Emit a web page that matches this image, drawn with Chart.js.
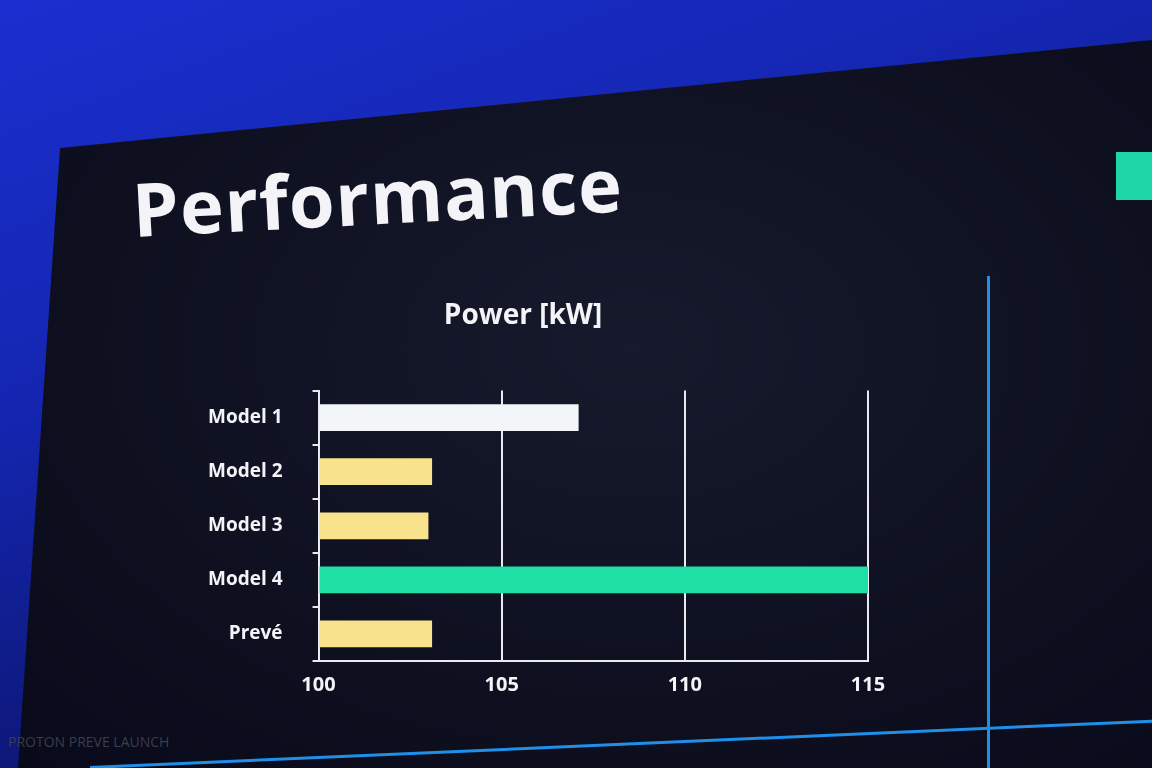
<!DOCTYPE html>
<html>
<head>
<meta charset="utf-8">
<script src="https://cdn.jsdelivr.net/npm/chart.js@4"></script>
<style>
  html, body { margin: 0; padding: 0; }
  body {
    width: 1152px; height: 768px; overflow: hidden; position: relative;
    background: linear-gradient(160deg, #1b2fd0 0%, #1426b0 35%, #0c1670 70%, #0a0f40 100%);
    font-family: "Open Sans", "DejaVu Sans", sans-serif;
  }
  #slide {
    position: absolute; left: 0; top: 0; width: 1152px; height: 768px;
    background: radial-gradient(ellipse at 55% 45%, #161a2c 0%, #0e1020 60%, #08091a 100%);
    clip-path: polygon(60px 148px, 1152px 40px, 1152px 768px, 18px 768px);
  }
  #heading {
    position: absolute; left: 135px; top: 158px; margin: 0;
    color: #f4f4f8; font-size: 74px; font-weight: 700; letter-spacing: 1px;
    transform: rotate(-3deg); transform-origin: left bottom;
  }
  #vline { position: absolute; left: 987px; top: 276px; width: 3px; height: 492px; background: #1f8fe8; }
  #teal { position: absolute; left: 1116px; top: 152px; width: 40px; height: 48px; background: #1fd6a6; }
  #bline {
    position: absolute; left: 90px; top: 766px; width: 1080px; height: 3px; background: #1f8fe8;
    transform: rotate(-2.5deg); transform-origin: left center;
  }
  #footer { position: absolute; left: 8px; top: 732px; color: #3a3d4c; font-size: 14px; }
  #wrap { position: absolute; left: 178px; top: 299px; width: 720px; height: 410px; }
</style>
</head>
<body>
<div id="slide"></div>
<h1 id="heading">Performance</h1>
<div id="vline"></div>
<div id="teal"></div>
<div id="bline"></div>
<div id="footer">PROTON PREVE LAUNCH</div>
<div id="wrap"><canvas id="powerChart"></canvas></div>
<script>
// Data
var models = ["Model 1", "Model 2", "Model 3", "Model 4", "Prevé"];
var power = [107.1, 103.1, 103.0, 115, 103.1];
var barColors = ["#f2f6f8", "#f8e28c", "#f8e28c", "#1fe0a4", "#f8e28c"];
var xTicks = [100, 105, 110, 115];

var ctx = document.getElementById("powerChart").getContext("2d");
var chart = new Chart(ctx, {
    type: "bar",
    data: {
        labels: models,
        datasets: [
            {
                label: "Power [kW]",
                data: power,
                backgroundColor: barColors,
                borderWidth: 0,
                barPercentage: 0.55,
                categoryPercentage: 0.9,
                base: 100
            }
        ]
    },
    options: {
        indexAxis: "y",
        responsive: true,
        maintainAspectRatio: false,
        animation: false,
        layout: { padding: { right: 30, bottom: 0 } },
        plugins: {
            legend: { display: false },
            tooltip: { enabled: false },
            title: {
                display: true,
                text: "Power [kW]",
                color: "#f4f4f8",
                font: { size: 28, weight: "bold", family: "Open Sans" },
                padding: { top: 0, bottom: 58 }
            }
        },
        scales: {
            x: {
                min: 100,
                max: 115,
                afterBuildTicks: function (axis) {
                    axis.ticks = xTicks.map(function (v) { return { value: v }; });
                },
                grid: {
                    color: function (c) { return c.tick && c.tick.value === 100 ? "rgba(0,0,0,0)" : "#e8eaf0"; },
                    lineWidth: 2,
                    drawTicks: false
                },
                border: { color: "#e8eaf0", width: 2 },
                ticks: {
                    color: "#f4f4f8",
                    font: { size: 20, weight: "bold", family: "Open Sans" },
                    padding: 12
                }
            },
            y: {
                grid: { display: true, drawOnChartArea: false, drawTicks: true, tickLength: 6, color: "#e8eaf0", lineWidth: 2 },
                border: { color: "#e8eaf0", width: 2 },
                ticks: {
                    color: "#f4f4f8",
                    font: { size: 19, weight: "bold", family: "Open Sans" },
                    padding: 30
                }
            }
        }
    }
});
</script>
</body>
</html>
